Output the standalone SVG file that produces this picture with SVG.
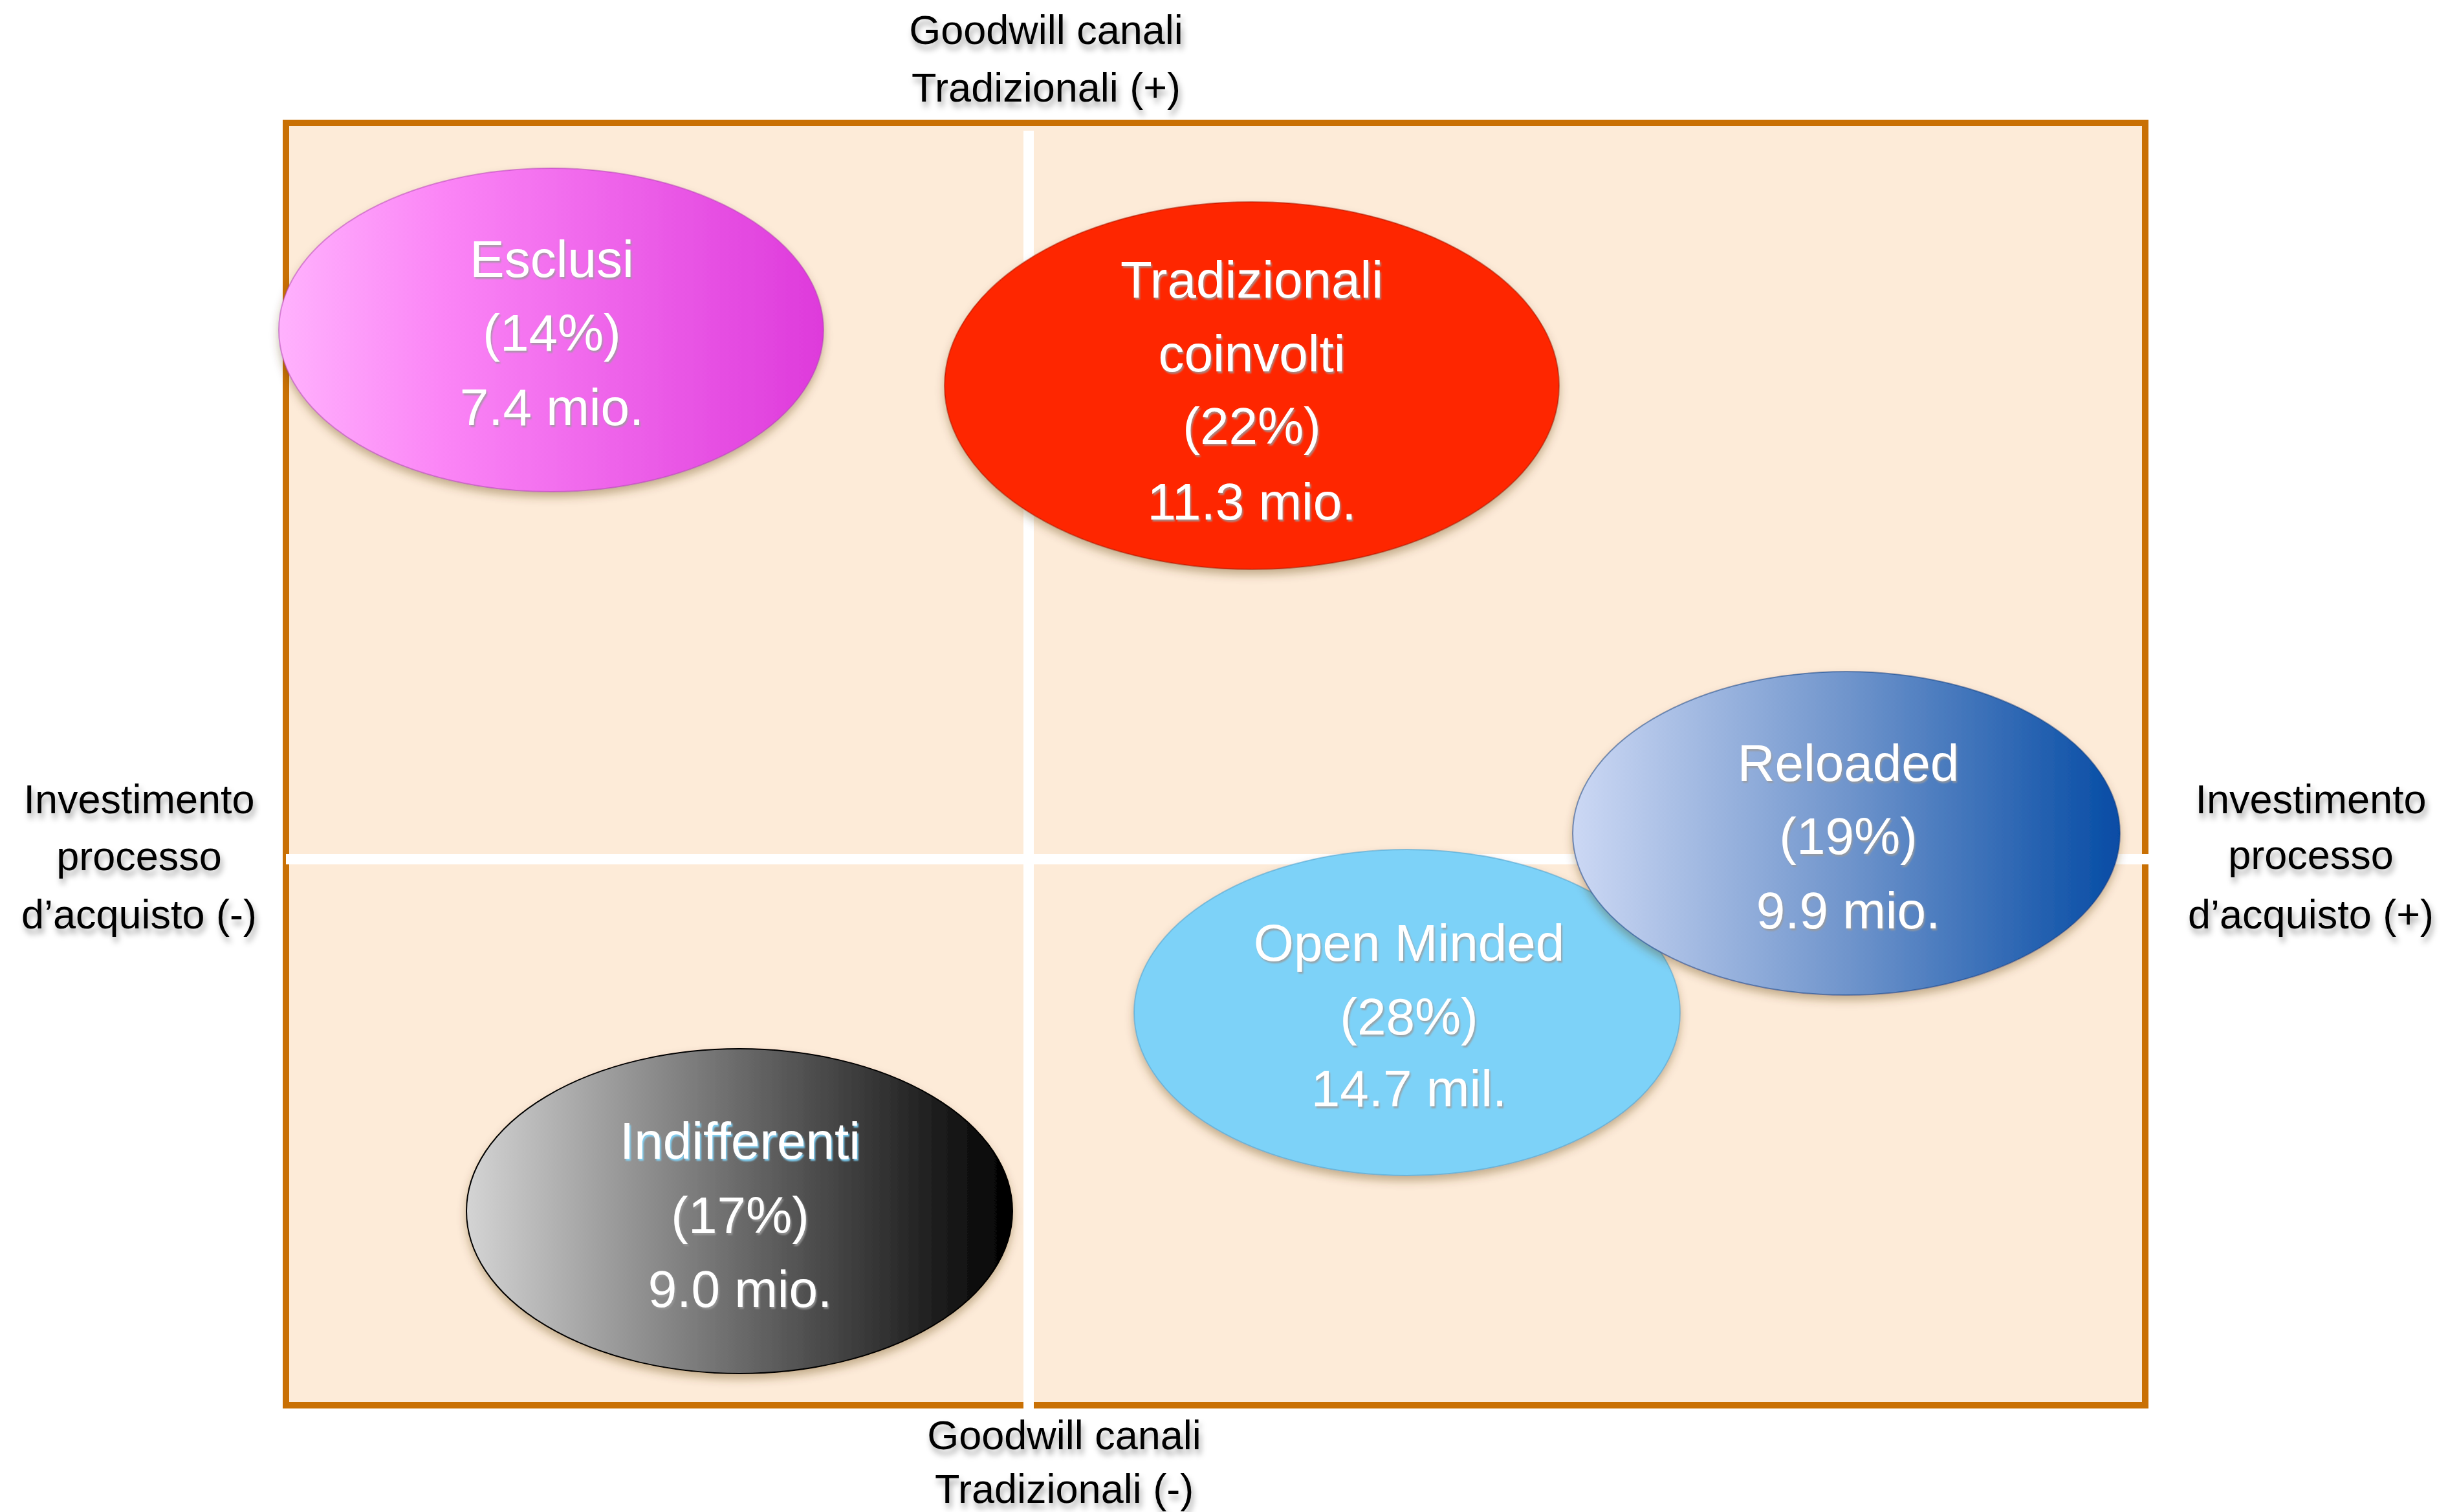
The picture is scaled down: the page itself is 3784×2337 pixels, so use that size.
<svg xmlns="http://www.w3.org/2000/svg" width="3784" height="2337" viewBox="0 0 3784 2337">
<style>
.axis{font-family:"Comic Sans MS","Liberation Sans",sans-serif;font-size:63px;fill:#000;text-anchor:middle;filter:url(#softShadow)}
.side{font-family:"Liberation Sans",Arial,sans-serif;font-size:63px;fill:#000;text-anchor:middle;filter:url(#softShadow)}
.lbl{font-family:"Comic Sans MS","Liberation Sans",sans-serif;font-size:80px;fill:#fff;text-anchor:middle;filter:url(#txtShadow)}
.ell{filter:url(#ellShadow)}
</style>
<defs>
<filter id="softShadow" x="-20%" y="-40%" width="140%" height="200%">
<feDropShadow dx="3" dy="8" stdDeviation="5" flood-color="#000" flood-opacity="0.35"/>
</filter>
<filter id="txtShadow" x="-10%" y="-20%" width="120%" height="140%">
<feDropShadow dx="2" dy="3" stdDeviation="0.8" flood-color="#999" flood-opacity="0.8"/>
</filter>
<filter id="txtShadowBlue" x="-10%" y="-20%" width="120%" height="140%">
<feDropShadow dx="2" dy="3" stdDeviation="0.8" flood-color="#7fd8ff" flood-opacity="0.9"/>
</filter>
<filter id="ellShadow" x="-10%" y="-10%" width="120%" height="125%">
<feDropShadow dx="0" dy="8" stdDeviation="7" flood-color="#5a3a10" flood-opacity="0.35"/>
</filter>
<linearGradient id="gPink" x1="0" y1="0" x2="1" y2="0">
<stop offset="0" stop-color="#FFB2FD"/>
<stop offset="0.3" stop-color="#FB85F6"/>
<stop offset="1" stop-color="#DE3ADB"/>
</linearGradient>
<linearGradient id="gBlue" x1="0" y1="0" x2="1" y2="0">
<stop offset="0" stop-color="#CCD8F4"/>
<stop offset="0.5" stop-color="#7095CC"/>
<stop offset="1" stop-color="#064CA5"/>
</linearGradient>
<linearGradient id="gGrey" x1="0" y1="0" x2="1" y2="0">
<stop offset="0" stop-color="#D4D4D4"/>
<stop offset="1" stop-color="#000000"/>
</linearGradient>
</defs>
<rect x="0" y="0" width="3784" height="2337" fill="#ffffff"/>
<g id="frame">
<rect x="442" y="190" width="2874" height="1982" fill="#FDEBD8" stroke="#C97004" stroke-width="10"/>
</g>
<g id="connectors">
<line x1="1590" y1="202" x2="1590" y2="2178" stroke="#ffffff" stroke-width="16"/>
<line x1="442" y1="1328" x2="3321" y2="1328" stroke="#ffffff" stroke-width="16"/>
</g>
<g id="esclusi">
<ellipse class="ell" cx="852" cy="510" rx="421" ry="250" fill="url(#gPink)" stroke="#B040B0" stroke-opacity="0.5" stroke-width="2"/>
<text class="lbl" x="853" y="428">Esclusi</text>
<text class="lbl" x="853" y="542">(14%)</text>
<text class="lbl" x="853" y="657">7.4 mio.</text>
</g>
<g id="tradizionali">
<ellipse class="ell" cx="1935" cy="596" rx="475" ry="284" fill="#FE2500" stroke="#A01800" stroke-opacity="0.5" stroke-width="2"/>
<text class="lbl" x="1935" y="460">Tradizionali</text>
<text class="lbl" x="1935" y="574">coinvolti</text>
<text class="lbl" x="1935" y="686">(22%)</text>
<text class="lbl" x="1935" y="803">11.3 mio.</text>
</g>
<g id="indifferenti">
<ellipse class="ell" cx="1143" cy="1872" rx="422" ry="251" fill="url(#gGrey)" stroke="#000" stroke-width="2"/>
<text class="lbl" x="1144" y="1791" style="filter:url(#txtShadowBlue)">Indifferenti</text>
<text class="lbl" x="1144" y="1906">(17%)</text>
<text class="lbl" x="1144" y="2020">9.0 mio.</text>
</g>
<g id="openminded">
<ellipse class="ell" cx="2175" cy="1565" rx="422" ry="252" fill="#7DD2F8" stroke="#4A9CC8" stroke-opacity="0.5" stroke-width="2"/>
<text class="lbl" x="2178" y="1485">Open Minded</text>
<text class="lbl" x="2178" y="1599">(28%)</text>
<text class="lbl" x="2178" y="1710">14.7 mil.</text>
</g>
<g id="reloaded">
<ellipse class="ell" cx="2854" cy="1288" rx="423" ry="250" fill="url(#gBlue)" stroke="#083C80" stroke-opacity="0.5" stroke-width="2"/>
<text class="lbl" x="2857" y="1207">Reloaded</text>
<text class="lbl" x="2857" y="1320">(19%)</text>
<text class="lbl" x="2857" y="1435">9.9 mio.</text>
</g>
<g id="axis-top">
<text class="axis" x="1617" y="68">Goodwill canali</text>
<text class="axis" x="1617" y="157">Tradizionali (+)</text>
</g>
<g id="axis-bottom">
<text class="axis" x="1645" y="2240">Goodwill canali</text>
<text class="axis" x="1645" y="2323">Tradizionali (-)</text>
</g>
<g id="axis-left">
<text class="side" x="215" y="1257">Investimento</text>
<text class="side" x="215" y="1345">processo</text>
<text class="side" x="215" y="1435">d’acquisto (-)</text>
</g>
<g id="axis-right">
<text class="side" x="3572" y="1257">Investimento</text>
<text class="side" x="3572" y="1343">processo</text>
<text class="side" x="3572" y="1435">d’acquisto (+)</text>
</g>
</svg>
